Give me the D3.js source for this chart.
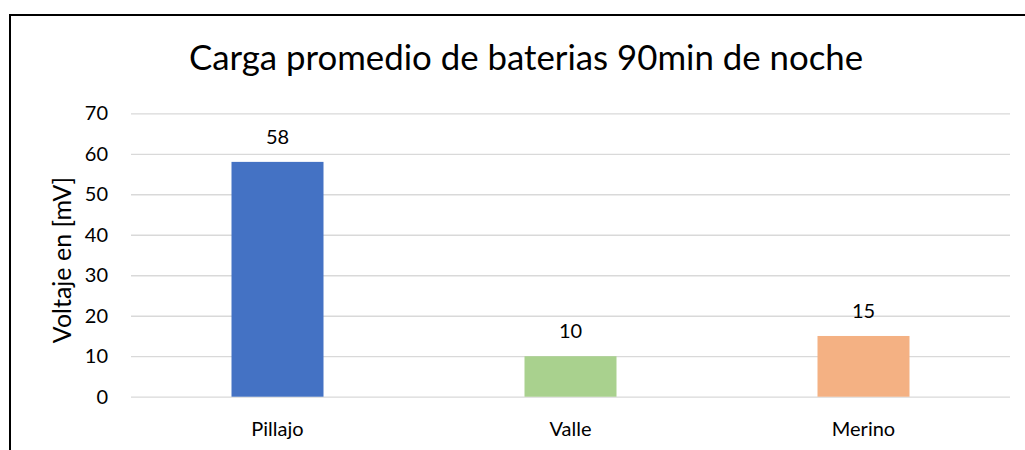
<!DOCTYPE html>
<html><head><meta charset="utf-8">
<script src="https://cdn.jsdelivr.net/npm/d3@7"></script>
<style>body{margin:0;background:#fff}svg{display:block}text{font-family:Lato,"Open Sans",sans-serif;fill:#000}</style>
</head><body>
<svg id="c" width="1025" height="450"></svg>
<script>
const categories = ["Pillajo", "Valle", "Merino"];
const values = [58, 10, 15];
const colors = ["#4472C4", "#A9D18E", "#F4B183"];
const yTicks = [0, 10, 20, 30, 40, 50, 60, 70];
const title = "Carga promedio de baterias 90min de noche";
const yLabel = "Voltaje en [mV]";

const svg = d3.select("#c");
svg.append("rect").attr("x", 10).attr("y", 15).attr("width", 1100).attr("height", 500)
  .attr("fill", "#fff").attr("stroke", "#000").attr("stroke-width", 2);

const pL = 131, pR = 1010, pT = 113.3, pB = 396.7;
const x = d3.scaleBand().domain(categories).range([pL, pR]).paddingInner(0.686).paddingOuter(0.343);
const y = d3.scaleLinear().domain([0, 70]).range([pB, pT]);

const fs = 20;
const yAxis = svg.append("g").attr("transform", `translate(${pL},0)`)
  .call(d3.axisLeft(y).tickValues(yTicks).tickSize(-(pR - pL)).tickPadding(23));
yAxis.select(".domain").remove();
yAxis.selectAll(".tick line").attr("stroke", "#D9D9D9").attr("stroke-width", 1.3);
yAxis.selectAll(".tick text").attr("font-size", fs).attr("font-family", "Lato").attr("fill", "#000");

svg.selectAll("rect.bar").data(values).enter().append("rect").attr("class", "bar")
  .attr("x", (d, i) => x(categories[i])).attr("width", x.bandwidth())
  .attr("y", d => y(d)).attr("height", d => pB - y(d))
  .attr("fill", (d, i) => colors[i]);

svg.selectAll("text.val").data(values).enter().append("text").attr("class", "val")
  .attr("x", (d, i) => x(categories[i]) + x.bandwidth() / 2).attr("y", d => y(d) - 18)
  .attr("text-anchor", "middle").attr("font-size", fs).text(d => d);

const xAxis = svg.append("g").attr("transform", `translate(0,${pB})`)
  .call(d3.axisBottom(x).tickSize(0).tickPadding(25));
xAxis.select(".domain").remove();
xAxis.selectAll(".tick text").attr("font-size", fs).attr("font-family", "Lato").attr("fill", "#000");

svg.append("text").attr("x", 526).attr("y", 70).attr("text-anchor", "middle")
  .attr("font-size", 34.8).text(title);

svg.append("text").attr("transform", `translate(71,260) rotate(-90)`)
  .attr("text-anchor", "middle").attr("font-size", 25).text(yLabel);
</script>
</body></html>
